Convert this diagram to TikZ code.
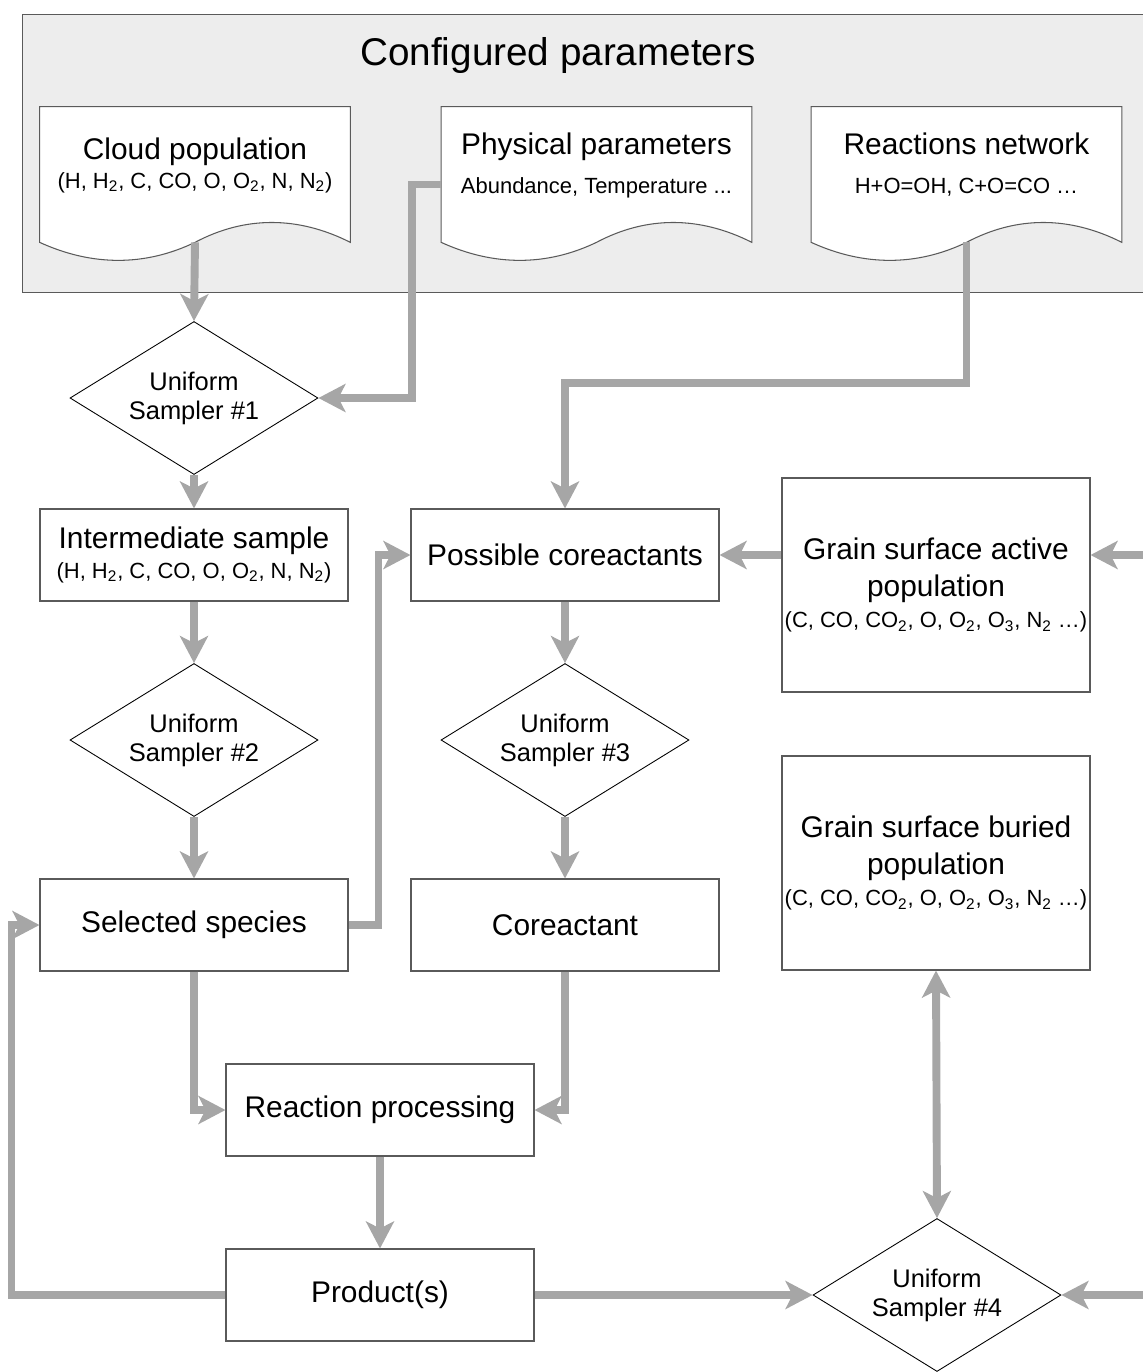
\documentclass[tikz,border=0pt]{standalone}
\usepackage{fontspec}
\setmainfont{Liberation Sans}
\usetikzlibrary{shapes,arrows,arrows.meta}
\pgfdeclarelayer{back}
\pgfdeclarelayer{paper}
\pgfsetlayers{back,paper,main}
\definecolor{flowgrey}{HTML}{A6A6A6}
\definecolor{panelgrey}{HTML}{EDEDED}
\definecolor{edgegrey}{HTML}{5A5A5A}
\newcommand{\bigfont}{\fontsize{17}{21}\selectfont}
\newcommand{\subfont}{\fontsize{12.5}{15}\selectfont}
\newcommand{\headfont}{\fontsize{22}{26}\selectfont}
\newcommand{\diafont}{\fontsize{14.5}{16.5}\selectfont}
\tikzstyle{panel} = [rectangle, draw=edgegrey, fill=panelgrey, line width=0.6pt, minimum width=23.4cm, minimum height=5.56cm, anchor=north west]
\tikzstyle{headline} = [font=\headfont, text=black]
\tikzstyle{docpage} = [rectangle, minimum width=6.2cm, minimum height=2.7cm, inner sep=0pt, text depth=13pt, align=center, font=\bigfont]
\tikzstyle{docline} = [draw=edgegrey, fill=white, line width=0.6pt]
\tikzstyle{stagebox} = [rectangle, draw=edgegrey, fill=white, line width=0.6pt, minimum width=6.16cm, minimum height=1.84cm, inner sep=0pt, align=center, font=\bigfont]
\tikzstyle{poolbox} = [stagebox, minimum height=4.28cm]
\tikzstyle{sampler} = [diamond, draw=black, line width=0.5pt, fill=white, minimum width=4.96cm, minimum height=3.06cm, inner sep=0pt, aspect=1.6, align=center, font=\diafont]
\tikzstyle{flow} = [draw=flowgrey, line width=4.5pt, -{Stealth[length=0.54cm, width=0.56cm, inset=0.14cm]}]
\tikzstyle{twoway} = [flow, {Stealth[length=0.54cm, width=0.56cm, inset=0.14cm]}-{Stealth[length=0.54cm, width=0.56cm, inset=0.14cm]}]
\begin{document}
\begin{tikzpicture}[node distance=3.7cm]
        \useasboundingbox (0,0) rectangle (22.86,-27.44);
        \clip (0,0) rectangle (22.86,-27.44);
        \coordinate (rim) at (23.0,0);
        \begin{pgfonlayer}{back}
        \node (panel) [panel] at (0.44,-0.28) {};
        \end{pgfonlayer}
        \node (title) [headline] at (11.16,-1.1) {Configured parameters};
        \node (cloud) [docpage] at (3.9,-3.49) {Cloud population\\[-4.5pt]{\subfont (H, H\textsubscript{2}, C, CO, O, O\textsubscript{2}, N, N\textsubscript{2})}};
        \node (phys) [docpage] at (11.93,-3.49) {Physical parameters\\[1.5pt]{\subfont Abundance, Temperature ...}};
        \node (react) [docpage] at (19.33,-3.49) {Reactions network\\[1.5pt]{\subfont H+O=OH, C+O=CO …}};
        \begin{pgfonlayer}{paper}
        \foreach \d in {cloud,phys,react}
            \draw [docline] (\d.south west) -- (\d.north west) -- (\d.north east) -- (\d.south east) .. controls +(-1.05,0.53) and +(1.0,0.53) .. (\d.south) .. controls +(-1.0,-0.48) and +(1.05,-0.48) .. (\d.south west) -- cycle;
        \end{pgfonlayer}
        \node (samp1) [sampler] at (3.88,-7.96) {Uniform\\Sampler \#1};
        \node (inter) [stagebox, below of=samp1, yshift=0.56cm] {Intermediate sample\\[-4pt]{\subfont (H, H\textsubscript{2}, C, CO, O, O\textsubscript{2}, N, N\textsubscript{2})}};
        \node (samp2) [sampler, below of=inter] {Uniform\\Sampler \#2};
        \node (select) [stagebox, below of=samp2] {Selected species};
        \node (poss) [stagebox, right of=inter, xshift=3.72cm] {Possible coreactants};
        \node (samp3) [sampler, below of=poss] {Uniform\\Sampler \#3};
        \node (coreact) [stagebox, below of=samp3] {Coreactant};
        \node (active) [poolbox, right of=poss, xshift=3.72cm, yshift=-0.6cm] {Grain surface active\\population\\[-3pt]{\subfont (C, CO, CO\textsubscript{2}, O, O\textsubscript{2}, O\textsubscript{3}, N\textsubscript{2} …)}};
        \node (buried) [poolbox, below of=active, yshift=-1.86cm] {Grain surface buried\\population\\[-3pt]{\subfont (C, CO, CO\textsubscript{2}, O, O\textsubscript{2}, O\textsubscript{3}, N\textsubscript{2} …)}};
        \node (rproc) [stagebox, below of=select, xshift=3.72cm] {Reaction processing};
        \node (prod) [stagebox, below of=rproc] {Product(s)};
        \node (samp4) [sampler, right of=prod, xshift=7.44cm] {Uniform\\Sampler \#4};
        \draw [flow] (cloud.south) -- (samp1.north);
        \draw [flow] ([yshift=-0.2cm]phys.west) -- ++(-0.58,0) |- (samp1.east);
        \draw [flow] (react.south) -- ++(0,-2.82) -| (poss.north);
        \draw [flow] (samp1.south) -- (inter.north);
        \draw [flow] (inter.south) -- (samp2.north);
        \draw [flow] (samp2.south) -- (select.north);
        \draw [flow] (select.east) -- ++(0.6,0) |- (poss.west);
        \draw [flow] (poss.east -| active.west) -- (poss.east);
        \draw [flow] (poss.east -| rim) -- (poss.east -| active.east);
        \draw [flow] (poss.south) -- (samp3.north);
        \draw [flow] (samp3.south) -- (coreact.north);
        \draw [flow] (select.south) |- (rproc.west);
        \draw [flow] (coreact.south) |- (rproc.east);
        \draw [flow] (rproc.south) -- (prod.north);
        \draw [flow] (prod.west) -- ++(-4.28,0) |- (select.west);
        \draw [flow] (prod.east) -- (samp4.west);
        \draw [flow] (samp4.east -| rim) -- (samp4.east);
        \draw [twoway] (buried.south) -- (samp4.north);
\end{tikzpicture}
\end{document}
